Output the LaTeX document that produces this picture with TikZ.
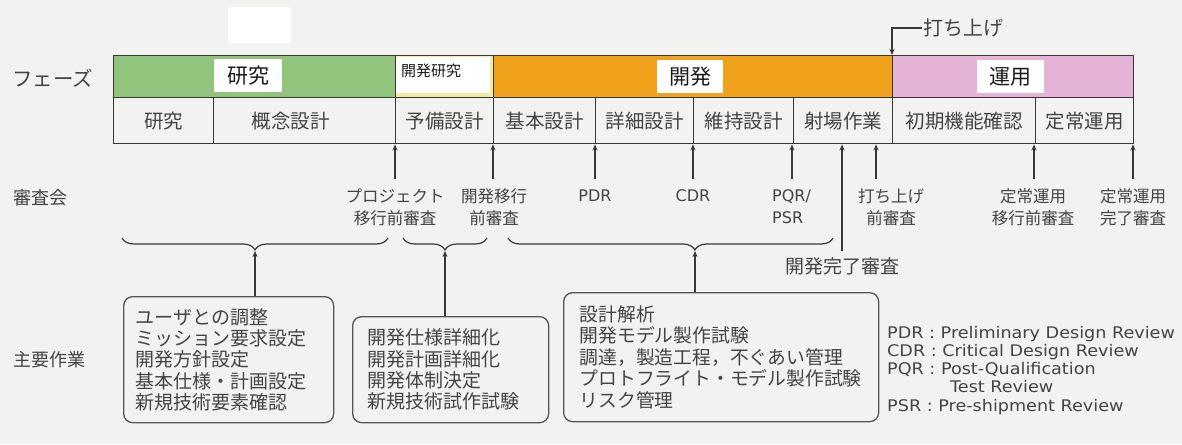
\documentclass[tikz,border=0pt]{standalone}
\usepackage{fontspec}
\setmainfont{Noto Sans CJK JP}
\newfontfamily\latf{DejaVu Sans}
\usetikzlibrary{arrows.meta,decorations.pathreplacing,calc}
\definecolor{bg}{HTML}{F2F2F0}
\definecolor{txt}{HTML}{444444}
\definecolor{linec}{HTML}{383838}
\definecolor{boxc}{HTML}{555555}
\definecolor{grn}{HTML}{93C47D}
\definecolor{org}{HTML}{F0A21C}
\definecolor{pnk}{HTML}{E5B3D5}
\definecolor{ylw}{HTML}{F3EC9E}
\newcommand\myfs[2]{\fontsize{#1}{#2}\selectfont}
\begin{document}
\begin{tikzpicture}[x=1pt,y=-1pt,
  phasebox/.style={draw=linec, line width=1.4pt, minimum height=42pt, anchor=north west, inner sep=0pt},
  cellbox/.style={draw=linec, line width=1.4pt, minimum height=46pt, anchor=north west, inner sep=0pt, text=txt, font=\myfs{19.5}{20}},
  whitebox/.style={fill=white, inner sep=0pt, text=black!90},
  rev/.style={text=txt, font=\myfs{16.5}{22}, align=center, inner sep=0pt},
  revl/.style={text=txt, font=\latf\myfs{16}{22}, inner sep=0pt},
  arr/.style={draw=linec, line width=1.2pt, -{Stealth[length=6pt,width=5pt]}},
  brc/.style={draw=linec, line width=1.2pt, decorate, decoration={brace, mirror, amplitude=12pt}},
  task/.style={draw=boxc, line width=1.3pt, rounded corners=9pt, anchor=north west, align=left, text=txt, inner ysep=0pt},
  lgd/.style={text=txt, font=\latf\myfs{16}{18}, anchor=west, inner sep=0pt},
  side/.style={text=txt, anchor=west, inner sep=0pt}
]
\path[use as bounding box, fill=bg] (0,0) rectangle (1182,444);

% blank patch at the top
\node[whitebox, minimum width=63pt, minimum height=36pt, anchor=north west] (blank) at (228,7) {};

% phase row
\node[phasebox, fill=grn, minimum width=282pt] (p1) at (113,55) {};
\node[phasebox, fill=ylw, minimum width=98pt] (p2) at (395,55) {};
\node[phasebox, fill=org, minimum width=399pt] (p3) at (493,55) {};
\node[phasebox, fill=pnk, minimum width=241pt] (p4) at (892,55) {};
\node[whitebox, minimum width=68pt, minimum height=33pt, font=\myfs{21}{22}] (n1) at (248,75.5) {研究};
\node[whitebox, minimum width=94pt, minimum height=36pt, anchor=north west] (kkb) at (396,57) {};
\node[anchor=west, font=\myfs{15}{16}, text=black!90, inner sep=0pt] (kk) at (401,71) {開発研究};
\node[whitebox, minimum width=66pt, minimum height=33pt, font=\myfs{21}{22}] (n3) at (690,76.5) {開発};
\node[whitebox, minimum width=67pt, minimum height=33pt, font=\myfs{21}{22}] (n4) at (1010.5,76.5) {運用};

% lower row
\node[cellbox, minimum width=100pt] (c1) at (113,97) {研究};
\node[cellbox, minimum width=182pt] (c2) at (213,97) {\hspace*{-28pt}概念設計};
\node[cellbox, minimum width=98pt] (c3) at (395,97) {予備設計};
\node[cellbox, minimum width=102pt] (c4) at (493,97) {基本設計};
\node[cellbox, minimum width=98pt] (c5) at (595,97) {詳細設計};
\node[cellbox, minimum width=100pt] (c6) at (693,97) {維持設計};
\node[cellbox, minimum width=99pt] (c7) at (793,97) {射場作業};
\node[cellbox, minimum width=143pt] (c8) at (892,97) {初期機能確認};
\node[cellbox, minimum width=98pt] (c9) at (1035,97) {定常運用};

% side labels
\node[side, font=\myfs{20.5}{22}] (sphase) at (12,78) {フェーズ};
\node[side, font=\myfs{18}{20}] (sreview) at (13,198) {審査会};
\node[side, font=\myfs{18}{20}] (stask) at (13,360) {主要作業};

% launch marker
\node[anchor=west, font=\myfs{20}{22}, text=txt, inner sep=1pt] (launch) at (922,28) {打ち上げ};
\draw[arr] (launch.west) -| (p4.north west);

% review markers
\coordinate (q1) at (395,179);
\coordinate (q2) at (493,179);
\coordinate (q3) at (595,179);
\coordinate (q4) at (693,179);
\coordinate (q5) at (792,179);
\coordinate (q6) at (842,251);
\coordinate (q7) at (876,179);
\coordinate (q8) at (1034,179);
\coordinate (q9) at (1133,179);
\foreach \q in {q1,q2,q3,q4,q5,q6,q7,q8,q9}{
  \draw[arr] (\q) -- (\q |- c1.south);
}
\node[rev] (L1) at (395,207) {プロジェクト\\移行前審査};
\node[rev] (L2) at (494,207) {開発移行\\前審査};
\node[revl] (L3) at (595,196) {PDR};
\node[revl] (L4) at (693,196) {CDR};
\node[revl, align=left, anchor=west] (L5) at (772,207) {PQR/\\PSR};
\node[rev] (L6) at (891,207) {打ち上げ\\前審査};
\node[rev] (L7) at (1033,207) {定常運用\\移行前審査};
\node[rev] (L8) at (1133,207) {定常運用\\完了審査};
\node[rev, font=\myfs{19}{22}] (L9) at (842,266) {開発完了審査};

% task boxes
\node[task, minimum width=210pt, minimum height=126pt, text width=186pt, inner xsep=12pt, font=\myfs{19}{21.3}] (t1) at (123,296)
  {ユーザとの調整\\ミッション要求設定\\開発方針設定\\基本仕様・計画設定\\新規技術要素確認};
\node[task, minimum width=196pt, minimum height=106pt, text width=166pt, inner xsep=15pt, font=\myfs{19}{21.3}] (t2) at (352,316)
  {開発仕様詳細化\\開発計画詳細化\\開発体制決定\\新規技術試作試験};
\node[task, minimum width=315pt, minimum height=129pt, text width=283pt, inner xsep=16pt, font=\myfs{18.8}{21.5}] (t3) at (563,292)
  {設計解析\\開発モデル製作試験\\調達，製造工程，不ぐあい管理\\プロトフライト・モデル製作試験\\リスク管理};

% braces and arrows
\coordinate (b1a) at (122,238); \coordinate (b1b) at (388,238); \coordinate (b1t) at (255,251);
\coordinate (b2a) at (403,238); \coordinate (b2b) at (487,238); \coordinate (b2t) at (445,251);
\coordinate (b3a) at (508,238); \coordinate (b3b) at (833,238); \coordinate (b3t) at (695,251);
\draw[brc] (b1a) -- (b1b);
\draw[brc] (b2a) -- (b2b);
\draw[brc, decoration={aspect=0.575}] (b3a) -- (b3b);
\draw[arr] (b1t |- t1.north) -- (b1t);
\draw[arr] (b2t |- t2.north) -- (b2t);
\draw[arr] (b3t |- t3.north) -- (b3t);

% legend
\node[lgd] (lg1) at (887,334) {\scalebox{1.1}[1]{PDR : Preliminary Design Review}};
\node[lgd] (lg2) at (887,352) {\scalebox{1.1}[1]{CDR : Critical Design Review}};
\node[lgd] (lg3) at (887,369) {\scalebox{1.1}[1]{PQR : Post-Qualification}};
\node[lgd] (lg4) at (950,387) {\scalebox{1.1}[1]{Test Review}};
\node[lgd] (lg5) at (887,407) {\scalebox{1.1}[1]{PSR : Pre-shipment Review}};
\end{tikzpicture}
\end{document}
